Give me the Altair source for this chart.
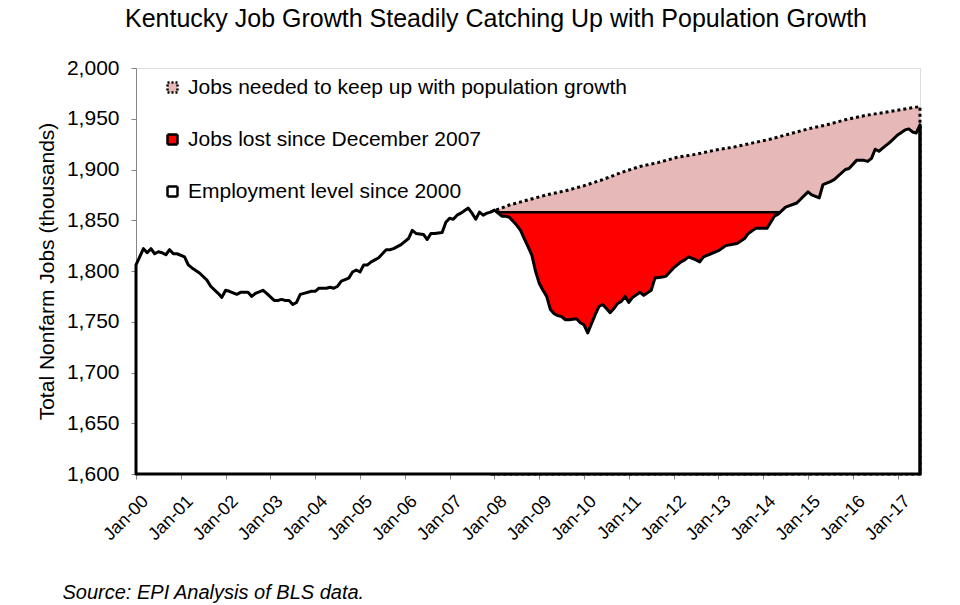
import altair as alt
import pandas as pd

# Kentucky total nonfarm jobs (thousands); months counted from Jan 2000
emp_months = [0, 2, 3, 4, 5, 6, 7, 8, 9, 10, 11, 13, 14, 15, 17, 19, 20, 22, 23, 24,
              25, 27, 28, 30, 31, 32, 34, 35, 37, 38, 39, 40, 41, 42, 43, 44, 45, 47, 48, 49,
              51, 52, 53, 54, 55, 57, 58, 59, 60, 61, 62, 63, 64, 65, 67, 68, 69, 70, 71, 73,
              74, 75, 77, 78, 79, 80, 82, 83, 84, 85, 86, 87, 89, 90, 91, 92, 93, 94, 95, 96,
              97, 98, 99, 100, 102, 103, 104, 105, 106, 107, 108, 109, 110, 111, 112, 113, 114, 115, 116, 118,
              119, 120, 121, 122, 123, 124, 125, 126, 127, 128, 129, 130, 131, 132, 133, 135, 136, 138, 139, 141,
              142, 144, 146, 147, 148, 150, 151, 152, 154, 156, 158, 161, 163, 164, 166, 169, 171, 172, 174, 177,
              180, 181, 183, 184, 186, 187, 190, 191, 193, 195, 196, 197, 198, 199, 200, 202, 204, 206, 207, 208,
              209, 210]
emp_values = [1806, 1822, 1818, 1822, 1817, 1819, 1818, 1816, 1821, 1817, 1817, 1814, 1806, 1803, 1798, 1791, 1785, 1778, 1774, 1781,
              1780, 1777, 1779, 1779, 1775, 1778, 1781, 1778, 1771, 1771, 1772, 1771, 1771, 1767, 1769, 1777, 1778, 1780, 1780, 1783,
              1783, 1784, 1783, 1785, 1790, 1793, 1799, 1801, 1799, 1806, 1806, 1809, 1811, 1813, 1821, 1821, 1822, 1824, 1826, 1832,
              1840, 1837, 1836, 1831, 1837, 1837, 1838, 1848, 1852, 1851, 1855, 1857, 1862, 1857, 1851, 1858, 1855, 1857, 1858, 1860,
              1857, 1854, 1854, 1853, 1845, 1840, 1832, 1824, 1816, 1800, 1788, 1781, 1775, 1762, 1758, 1756, 1755, 1752, 1752, 1753,
              1749, 1747, 1739, 1748, 1757, 1765, 1767, 1763, 1759, 1763, 1768, 1770, 1775, 1769, 1774, 1779, 1776, 1781, 1793, 1794,
              1795, 1803, 1809, 1811, 1814, 1811, 1809, 1814, 1817, 1820, 1825, 1827, 1832, 1837, 1842, 1842, 1854, 1856, 1863, 1867,
              1878, 1875, 1872, 1885, 1888, 1890, 1900, 1901, 1909, 1909, 1908, 1911, 1920, 1918, 1921, 1927, 1934, 1939, 1940, 1937,
              1936, 1944]

# Jobs needed to keep up with population growth (from Dec 2007)
pop_months = [95, 100, 105, 110, 115, 120, 125, 130, 135, 140, 145, 150, 155, 160, 165, 170,
              175, 180, 185, 190, 195, 200, 205, 210]
pop_values = [1858, 1865, 1870, 1875, 1879, 1884, 1890, 1897, 1903, 1907, 1912, 1915, 1919, 1922, 1926, 1930,
              1935, 1940, 1944, 1949, 1953, 1956, 1959, 1962]

# December 2007 level and the stretch of months below it (Dec 2007 .. Jul 2014)
gap_months = [95, 174]
gap_level = 1858

y_ticks = list(range(1600, 2001, 50))
x_years = list(range(2000, 2018))

S_POP = "Jobs needed to keep up with population growth"
S_LOST = "Jobs lost since December 2007"
S_EMP = "Employment level since 2000"
C_POP = "#e6b9b8"
C_LOST = "#ff0000"
C_EMP = "#ffffff"

FONT = "Liberation Sans"
Y_FLOOR = 1600


def frame(months, values, name):
    return pd.DataFrame({
        "year": [2000 + m / 12 for m in months],
        "value": values,
        "series": name,
    })


emp_df = frame(emp_months, emp_values, S_EMP)
pop_df = frame(pop_months, pop_values, S_POP)
gap_df = frame(gap_months, [gap_level] * len(gap_months), S_LOST)
emp_last = emp_df.tail(1)

x_enc = alt.X(
    "year:Q",
    scale=alt.Scale(domain=[2000, 2017.5], nice=False, zero=False),
    axis=alt.Axis(
        values=x_years,
        labelExpr="'Jan-' + (datum.value % 100 < 10 ? '0' : '') + (datum.value % 100)",
        labelAngle=-45, labelAlign="right", labelBaseline="top",
        labelPadding=13, labelOffset=3, labelFontSize=18, labelFont=FONT,
        labelColor="black", tickSize=5, tickColor="#868686", domainColor="#868686",
        grid=False, labelOverlap=False,
        title="Source: EPI Analysis of BLS data.", titleFont=FONT, titleFontSize=20,
        titleFontStyle="italic", titleFontWeight="normal", titleColor="black",
        titleAlign="left", titleBaseline="alphabetic", titleX=-74, titleY=124,
    ),
)
y_enc = alt.Y(
    "value:Q",
    scale=alt.Scale(domain=[Y_FLOOR, 2000], nice=False, zero=False),
    axis=alt.Axis(
        values=y_ticks, format=",.0f", labelFontSize=21, labelFont=FONT,
        labelColor="black", labelPadding=12, tickSize=5, tickColor="#868686",
        domainColor="#868686", grid=False,
        title="Total Nonfarm Jobs (thousands)", titleFont=FONT, titleFontSize=21,
        titleFontWeight="normal", titleColor="black", titleX=-89, titleY=203,
        titleBaseline="middle", titleAngle=-90,
    ),
)
y2_enc = alt.datum(Y_FLOOR)


def fill_for(name, color, row, dash):
    legend = alt.Legend(
        title=None, orient="none", legendX=26, legendY=9 + 52 * row, padding=0,
        labelFontSize=21, labelFont=FONT, labelColor="black", labelLimit=0,
        symbolType="square", symbolSize=100, symbolStrokeColor="black",
        symbolStrokeWidth=2.5, symbolDash=dash, labelOffset=5,
    )
    return alt.Fill("series:N", scale=alt.Scale(domain=[name], range=[color]), legend=legend)


pop_area = alt.Chart(pop_df).mark_area(
    stroke="black", strokeWidth=3, strokeDash=[3, 3], strokeCap="butt", fillOpacity=1
).encode(x=x_enc, y=y_enc, y2=y2_enc, fill=fill_for(S_POP, C_POP, 0, [2, 2]))

gap_area = alt.Chart(gap_df).mark_area(
    stroke="black", strokeWidth=2.5, fillOpacity=1
).encode(x=x_enc, y=y_enc, y2=y2_enc, fill=fill_for(S_LOST, C_LOST, 1, [1, 0]))

emp_area = alt.Chart(emp_df).mark_area(
    stroke="black", strokeWidth=3, strokeJoin="round", fillOpacity=1
).encode(x=x_enc, y=y_enc, y2=y2_enc, fill=fill_for(S_EMP, C_EMP, 2, [1, 0]))

# solid closing edge of the employment area at the last month
emp_edge = alt.Chart(emp_last).mark_rule(
    color="black", strokeWidth=3
).encode(x=x_enc, y=y_enc, y2=y2_enc)

chart = alt.layer(pop_area, gap_area, emp_area, emp_edge).resolve_scale(
    fill="independent"
).properties(
    width=784,
    height=406,
    autosize=alt.AutoSizeParams(type="none"),
    padding={"left": 128, "top": 60, "right": 32, "bottom": 130},
    title=alt.TitleParams(
        "Kentucky Job Growth Steadily Catching Up with Population Growth",
        font=FONT, fontSize=25, fontWeight="normal", color="black",
        anchor="middle", dx=-32, offset=25,
    ),
).configure_view(stroke=None).configure(background="white")

chart.save("out.html", embed_options={"renderer": "svg", "actions": False})
